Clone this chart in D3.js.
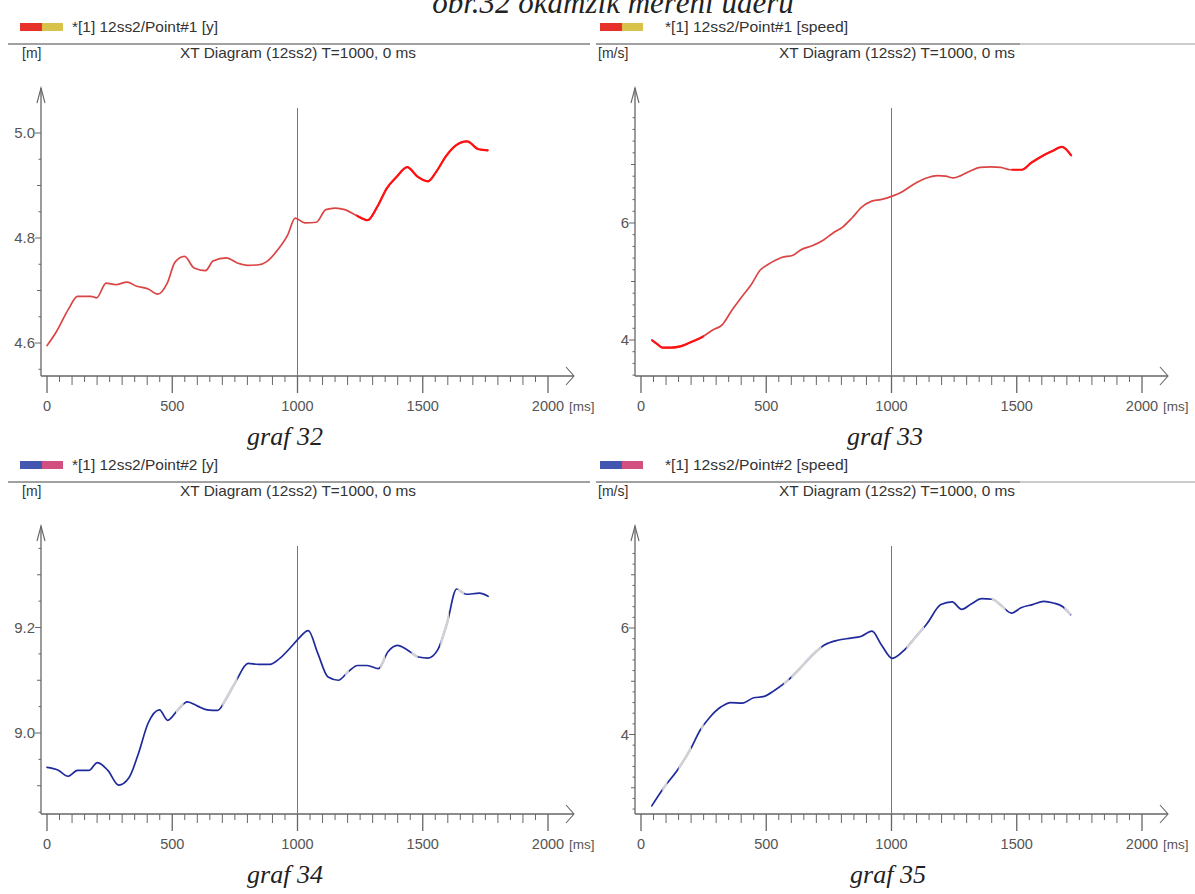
<!DOCTYPE html>
<html>
<head>
<meta charset="utf-8">
<script src="https://cdn.jsdelivr.net/npm/d3@7"></script>
<style>
  body { margin: 0; background: #fff; }
  svg { display: block; }
</style>
</head>
<body>
<svg id="chart" width="1195" height="894"></svg>
<script>
// ---- Point#1, vertical position [m]
const p1yTime = [0, 38, 84, 122, 175, 198, 236, 274, 320, 358, 404, 442, 480, 511, 549, 587, 633, 663, 716, 762, 800, 846, 877, 922, 960, 991, 1029, 1075, 1113, 1151, 1189, 1235, 1280, 1319, 1357, 1395, 1438, 1479, 1521, 1555, 1593, 1631, 1677, 1723, 1761];
const p1yValue = [4.595, 4.622, 4.663, 4.689, 4.689, 4.686, 4.714, 4.711, 4.716, 4.708, 4.703, 4.693, 4.714, 4.754, 4.765, 4.743, 4.738, 4.756, 4.762, 4.752, 4.748, 4.749, 4.755, 4.778, 4.805, 4.838, 4.829, 4.830, 4.854, 4.857, 4.854, 4.843, 4.834, 4.860, 4.895, 4.916, 4.935, 4.917, 4.908, 4.927, 4.956, 4.976, 4.984, 4.969, 4.967];

// ---- Point#1, speed [m/s]
const p1sTime = [43, 65, 85, 119, 157, 203, 248, 286, 324, 363, 408, 439, 477, 507, 561, 607, 637, 683, 729, 767, 805, 843, 881, 919, 957, 1003, 1041, 1087, 1140, 1186, 1216, 1247, 1277, 1315, 1353, 1398, 1436, 1474, 1520, 1558, 1604, 1642, 1680, 1718];
const p1sValue = [4.00, 3.93, 3.87, 3.87, 3.89, 3.97, 4.06, 4.17, 4.26, 4.51, 4.77, 4.94, 5.20, 5.29, 5.41, 5.45, 5.54, 5.61, 5.71, 5.83, 5.93, 6.09, 6.27, 6.37, 6.40, 6.46, 6.53, 6.66, 6.77, 6.81, 6.80, 6.77, 6.81, 6.89, 6.95, 6.96, 6.95, 6.91, 6.91, 7.03, 7.15, 7.23, 7.30, 7.15];

// ---- Point#2, vertical position [m]
const p2yTime = [0, 43, 84, 122, 167, 201, 243, 286, 327, 365, 403, 449, 482, 521, 560, 601, 639, 682, 715, 753, 803, 844, 890, 928, 974, 1004, 1043, 1081, 1122, 1163, 1202, 1240, 1278, 1323, 1361, 1399, 1437, 1483, 1521, 1559, 1597, 1635, 1673, 1726, 1761];
const p2yValue = [8.935, 8.930, 8.918, 8.929, 8.929, 8.944, 8.929, 8.901, 8.915, 8.961, 9.018, 9.044, 9.024, 9.043, 9.059, 9.051, 9.044, 9.043, 9.065, 9.097, 9.132, 9.130, 9.130, 9.141, 9.163, 9.179, 9.194, 9.151, 9.106, 9.100, 9.116, 9.128, 9.128, 9.122, 9.154, 9.166, 9.158, 9.144, 9.142, 9.157, 9.208, 9.273, 9.263, 9.265, 9.259];

// ---- Point#2, speed [m/s]
const p2sTime = [43, 91, 145, 198, 236, 274, 320, 358, 404, 450, 488, 534, 587, 640, 686, 732, 785, 838, 877, 922, 960, 1003, 1052, 1098, 1143, 1197, 1242, 1280, 1318, 1360, 1402, 1441, 1479, 1517, 1563, 1608, 1646, 1684, 1715];
const p2sValue = [2.66, 3.00, 3.33, 3.73, 4.08, 4.32, 4.52, 4.60, 4.59, 4.69, 4.71, 4.83, 5.02, 5.27, 5.50, 5.68, 5.77, 5.81, 5.84, 5.94, 5.68, 5.43, 5.59, 5.84, 6.09, 6.44, 6.49, 6.35, 6.45, 6.55, 6.54, 6.41, 6.28, 6.38, 6.44, 6.50, 6.47, 6.40, 6.25];

// ---- time spans where the trace is drawn strong (red traces) or pale (blue traces)
const p1yStrong = [[1235, 1800]];
const p1sStrong = [[40, 250], [1480, 1800]];
const p2yPale = [[515, 545], [700, 760], [1190, 1205], [1330, 1350], [1455, 1480], [1570, 1605], [1640, 1665]];
const p2sPale = [[85, 105], [150, 200], [240, 250], [570, 590], [600, 720], [1060, 1130], [1400, 1455], [1690, 1720]];

// ---- axis ticks and texts
const timeTicks = [0, 500, 1000, 1500, 2000];
const cursorTime = 1000;
const headerTitle = "XT Diagram (12ss2) T=1000, 0 ms";
const legendLabels = ["*[1] 12ss2/Point#1 [y]", "*[1] 12ss2/Point#1 [speed]", "*[1] 12ss2/Point#2 [y]", "*[1] 12ss2/Point#2 [speed]"];
const unitLabels = ["[m]", "[m/s]", "[m]", "[m/s]"];
const captions = ["graf 32", "graf 33", "graf 34", "graf 35"];
const yTickLabels = [[4.6, 4.8, 5.0], [4, 6], [9.0, 9.2], [4, 6]];
const pageTitle = "obr.32 okamžik měření úderu";

const svg = d3.select("#chart");
const sans = "'Liberation Sans', Arial, sans-serif";
const serif = "'Liberation Serif', 'Times New Roman', serif";

// page heading, cut by the top edge
svg.append("text")
  .attr("x", 613).attr("y", 13)
  .attr("text-anchor", "middle")
  .attr("font-family", serif).attr("font-style", "italic")
  .attr("font-size", 31).attr("fill", "#222")
  .text(pageTitle);

// panel layout
const panels = [
  { time: p1yTime, value: p1yValue, ox: 0, oy: 0,
    yRef: [4.6, 343, 5.0, 133], fmt: d3.format(".1f"), minor: 0.05, mid: 0.1,
    base: "#dc4444", overlay: "#ff1111", spans: p1yStrong, overlayWidth: 2.2,
    swatch: ["#e8302a", "#d9c24a"], swX: 20, legX: 72, unitX: 22, titleX: 298, capX: 285 },
  { time: p1sTime, value: p1sValue, ox: 594, oy: 0,
    yRef: [4, 340, 6, 223], fmt: d3.format("d"), minor: 0.2, mid: 1,
    base: "#dc4444", overlay: "#ff1111", spans: p1sStrong, overlayWidth: 2.2,
    swatch: ["#e8302a", "#d9c24a"], swX: 600, legX: 665, unitX: 598, titleX: 897, capX: 885 },
  { time: p2yTime, value: p2yValue, ox: 0, oy: 438,
    yRef: [9.0, 295, 9.2, 189.5], fmt: d3.format(".1f"), minor: 0.05, mid: 0.1,
    base: "#1f2a9c", overlay: "#d2d2d6", spans: p2yPale, overlayWidth: 2.6,
    swatch: ["#4356b0", "#d2507f"], swX: 20, legX: 72, unitX: 22, titleX: 298, capX: 285 },
  { time: p2sTime, value: p2sValue, ox: 594, oy: 438,
    yRef: [4, 296.5, 6, 190], fmt: d3.format("d"), minor: 0.2, mid: 1,
    base: "#1f2a9c", overlay: "#d2d2d6", spans: p2sPale, overlayWidth: 2.6,
    swatch: ["#4356b0", "#d2507f"], swX: 600, legX: 665, unitX: 598, titleX: 897, capX: 888 }
];

const axisColor = "#666";
const textColor = "#333";
const defs = svg.append("defs");

panels.forEach((p, i) => {
  const g = svg.append("g").attr("transform", `translate(0,${p.oy})`);
  const axisX = 41 + p.ox;
  const axisY = 376;
  const topY = 88;

  // legend swatch and label
  g.append("rect").attr("x", p.swX).attr("y", 23).attr("width", 22).attr("height", 8).attr("fill", p.swatch[0]);
  g.append("rect").attr("x", p.swX + 22).attr("y", 23).attr("width", 21).attr("height", 8).attr("fill", p.swatch[1]);
  g.append("text").attr("x", p.legX).attr("y", 32)
    .attr("font-family", sans).attr("font-size", 14.5).attr("fill", textColor)
    .attr("textLength", i % 2 === 0 ? 146 : 183).attr("lengthAdjust", "spacingAndGlyphs")
    .text(legendLabels[i]);

  // separator under the legend
  if (p.ox === 0) {
    g.append("line").attr("x1", 8).attr("x2", 590).attr("y1", 44).attr("y2", 44)
      .attr("stroke", "#444").attr("stroke-width", 1.2);
  } else {
    g.append("line").attr("x1", 596).attr("x2", 1020).attr("y1", 44).attr("y2", 44)
      .attr("stroke", "#444").attr("stroke-width", 1.2);
    g.append("line").attr("x1", 1020).attr("x2", 1195).attr("y1", 44).attr("y2", 44)
      .attr("stroke", "#bbb").attr("stroke-width", 1.6);
  }

  // unit and diagram title
  g.append("text").attr("x", p.unitX).attr("y", 58)
    .attr("font-family", sans).attr("font-size", 14).attr("fill", textColor)
    .text(unitLabels[i]);
  g.append("text").attr("x", p.titleX).attr("y", 58).attr("text-anchor", "middle")
    .attr("font-family", sans).attr("font-size", 14.5).attr("fill", textColor)
    .attr("textLength", 236).attr("lengthAdjust", "spacingAndGlyphs")
    .text(headerTitle);

  // scales
  const x = d3.scaleLinear().domain([0, 2000]).range([47 + p.ox, 548 + p.ox]);
  const y = d3.scaleLinear().domain([p.yRef[0], p.yRef[2]]).range([p.yRef[1], p.yRef[3]]);
  const yLow = y.invert(axisY), yHigh = y.invert(topY + 20);

  // y axis line and arrow head
  g.append("line").attr("x1", axisX).attr("x2", axisX).attr("y1", axisY).attr("y2", topY)
    .attr("stroke", axisColor).attr("stroke-width", 1.3);
  g.append("path").attr("d", `M${axisX - 4},${topY + 15}L${axisX},${topY}L${axisX + 4},${topY + 15}`)
    .attr("fill", "none").attr("stroke", axisColor).attr("stroke-width", 1.1);

  // y ticks: labelled, medium and small
  const step = p.minor;
  const first = Math.ceil(yLow / step - 1e-6) * step;
  const minorVals = d3.range(first, yHigh, step);
  g.selectAll(".ym").data(minorVals).join("line")
    .attr("x1", d => {
      const isMajor = yTickLabels[i].some(v => Math.abs(v - d) < 1e-6);
      const isMid = Math.abs(d / p.mid - Math.round(d / p.mid)) < 1e-6;
      return axisX - (isMajor ? 6 : isMid ? 4 : 2.5);
    })
    .attr("x2", axisX)
    .attr("y1", d => y(d)).attr("y2", d => y(d))
    .attr("stroke", axisColor).attr("stroke-width", 1);
  g.selectAll(".yl").data(yTickLabels[i]).join("text")
    .attr("x", axisX - 6).attr("y", d => y(d) + 5).attr("text-anchor", "end")
    .attr("font-family", sans).attr("font-size", 15).attr("fill", "#555")
    .text(d => p.fmt(d));

  // x axis line and arrow head
  const axisEnd = 574 + p.ox;
  g.append("line").attr("x1", axisX).attr("x2", axisEnd).attr("y1", axisY).attr("y2", axisY)
    .attr("stroke", axisColor).attr("stroke-width", 1.3);
  g.append("path").attr("d", `M${axisEnd - 8},${axisY - 9}L${axisEnd},${axisY}L${axisEnd - 8},${axisY + 9}`)
    .attr("fill", "none").attr("stroke", axisColor).attr("stroke-width", 1.1);

  // x ticks every 50 ms, longer at 100 ms and at labelled values
  const xt = d3.range(0, 2001, 50);
  g.selectAll(".xm").data(xt).join("line")
    .attr("x1", d => x(d)).attr("x2", d => x(d))
    .attr("y1", axisY)
    .attr("y2", d => axisY + (d % 500 === 0 ? 17 : d % 100 === 0 ? 9 : 6))
    .attr("stroke", axisColor).attr("stroke-width", d => d % 500 === 0 ? 1.3 : 1);
  g.selectAll(".xl").data(timeTicks).join("text")
    .attr("x", d => x(d)).attr("y", axisY + 35).attr("text-anchor", "middle")
    .attr("font-family", sans).attr("font-size", 14.5).attr("fill", "#555")
    .text(d => d);
  g.append("text").attr("x", x(2000) + 21).attr("y", axisY + 35)
    .attr("font-family", sans).attr("font-size", 13.5).attr("fill", "#555")
    .text("[ms]");

  // time cursor
  g.append("line").attr("x1", x(cursorTime)).attr("x2", x(cursorTime))
    .attr("y1", 108).attr("y2", axisY)
    .attr("stroke", "#777").attr("stroke-width", 1);

  // data line
  const pts = p.time.map((t, k) => [t, p.value[k]]);
  const line = d3.line().x(d => x(d[0])).y(d => y(d[1])).curve(d3.curveMonotoneX);
  g.append("path").datum(pts).attr("d", line)
    .attr("fill", "none").attr("stroke", p.base).attr("stroke-width", 1.7)
    .attr("stroke-linejoin", "round").attr("stroke-linecap", "round");

  // strong / pale stretches of the same trace, clipped by time span
  // (clip rects live in the panel's own coordinates)
  const clipId = `clip${i}`;
  defs.append("clipPath").attr("id", clipId)
    .selectAll("rect").data(p.spans).join("rect")
    .attr("x", d => x(d[0])).attr("width", d => x(d[1]) - x(d[0]))
    .attr("y", 0).attr("height", axisY);
  g.append("path").datum(pts).attr("d", line)
    .attr("clip-path", `url(#${clipId})`)
    .attr("fill", "none").attr("stroke", p.overlay).attr("stroke-width", p.overlayWidth)
    .attr("stroke-linejoin", "round").attr("stroke-linecap", "butt");

  // caption
  g.append("text").attr("x", p.capX).attr("y", 445).attr("text-anchor", "middle")
    .attr("font-family", serif).attr("font-style", "italic")
    .attr("font-size", 26).attr("fill", "#222")
    .text(captions[i]);
});
</script>
</body>
</html>
